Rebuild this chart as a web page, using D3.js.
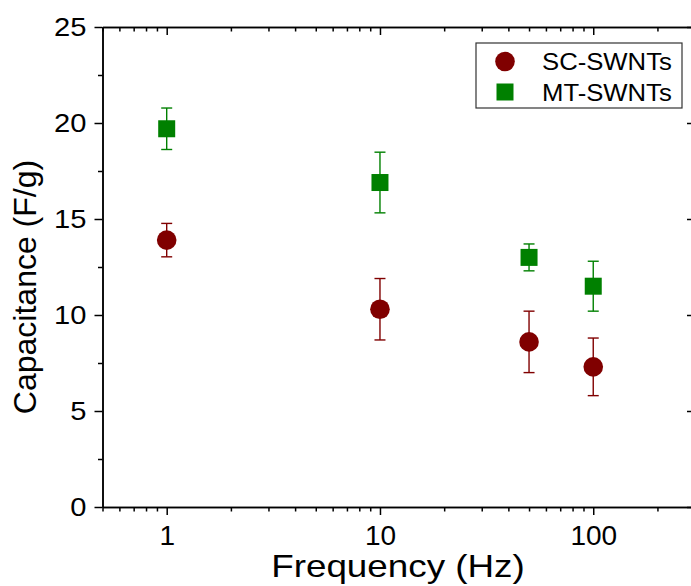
<!DOCTYPE html>
<html>
<head>
<meta charset="utf-8">
<script src="https://cdn.jsdelivr.net/npm/d3@7"></script>
<style>
  body { margin: 0; background: #fff; }
  svg { display: block; font-family: 'Liberation Sans', Arial, sans-serif; }
  .axis path, .axis line { stroke: #000; stroke-width: 1.5; }
  .axis text { font-size: 26px; fill: #000; }
</style>
</head>
<body>
<script>
// data
var freqs = [1, 10, 50, 100];
var scMean = [13.9, 10.3, 8.6, 7.3];
var scErr = [0.87, 1.6, 1.6, 1.5];
var mtMean = [19.7, 16.9, 13.0, 11.5];
var mtErr = [1.08, 1.58, 0.7, 1.3];
var seriesNames = ['SC-SWNTs', 'MT-SWNTs'];
var xMajor = [1, 10, 100];
var xMinor = [0.5, 0.6, 0.7, 0.8, 0.9, 2, 3, 4, 5, 6, 7, 8, 9, 20, 30, 40, 50, 60, 70, 80, 90, 200];
var yMajor = [0, 5, 10, 15, 20, 25];
var yMinor = [2.5, 7.5, 12.5, 17.5, 22.5];

var W = 691, H = 586;
var margin = { top: 27, right: -4, bottom: 79, left: 102.5 };
var width = W - margin.left - margin.right,
    height = H - margin.top - margin.bottom;

var red = '#800000', green = '#008000';

var svg = d3.select('body').append('svg')
  .attr('width', W)
  .attr('height', H);

var g = svg.append('g')
  .attr('transform', 'translate(' + margin.left + ',' + margin.top + ')');

var x = d3.scaleLog().domain([0.5, 300]).range([0, width]);
var y = d3.scaleLinear().domain([0, 25]).range([height, 0]);

// the original glyphs are a bit wider than Arial, stretch text sideways
function stretch(sel, k) {
  sel.each(function() {
    var len = this.getComputedTextLength();
    d3.select(this)
      .attr('textLength', len * k)
      .attr('lengthAdjust', 'spacingAndGlyphs');
  });
}

// minor ticks first, then major ones with labels
g.append('g').attr('class', 'axis')
  .attr('transform', 'translate(0,' + height + ')')
  .call(d3.axisBottom(x).tickValues(xMinor).tickSize(4.5).tickSizeOuter(0).tickFormat(''));
g.append('g').attr('class', 'axis')
  .attr('transform', 'translate(0,' + height + ')')
  .call(d3.axisBottom(x).tickValues(xMajor).tickSize(8).tickSizeOuter(0).tickPadding(10)
    .tickFormat(d3.format('d')))
  .selectAll('text').style('font-size', '28px');

// top axis, ticks pointing in
g.append('g').attr('class', 'axis')
  .call(d3.axisBottom(x).tickValues(xMinor).tickSize(4.5).tickSizeOuter(0).tickFormat(''));
g.append('g').attr('class', 'axis')
  .call(d3.axisBottom(x).tickValues(xMajor).tickSize(8).tickSizeOuter(0).tickFormat(''));

g.append('g').attr('class', 'axis')
  .call(d3.axisLeft(y).tickValues(yMinor).tickSize(4.5).tickSizeOuter(0).tickFormat(''));
g.append('g').attr('class', 'axis')
  .call(d3.axisLeft(y).tickValues(yMajor).tickSize(8).tickSizeOuter(0).tickPadding(8))
  .selectAll('text').call(stretch, 1.12);

// right axis, ticks pointing in
g.append('g').attr('class', 'axis')
  .attr('transform', 'translate(' + width + ',0)')
  .call(d3.axisLeft(y).tickValues(yMinor).tickSize(4).tickSizeOuter(0).tickFormat(''));
g.append('g').attr('class', 'axis')
  .attr('transform', 'translate(' + width + ',0)')
  .call(d3.axisLeft(y).tickValues(yMajor).tickSize(8).tickSizeOuter(0).tickFormat(''));

// axis titles
svg.append('text')
  .attr('x', 398)
  .attr('y', 577)
  .attr('text-anchor', 'middle')
  .style('font-size', '32px')
  .text('Frequency (Hz)')
  .call(stretch, 1.15);

svg.append('text')
  .attr('transform', 'translate(36,287) rotate(-90)')
  .attr('text-anchor', 'middle')
  .style('font-size', '32px')
  .text('Capacitance (F/g)');

var series = [
  { name: seriesNames[0], mean: scMean, err: scErr, color: red, shape: 'circle' },
  { name: seriesNames[1], mean: mtMean, err: mtErr, color: green, shape: 'square' }
];

function drawMarker(sel, shape, color) {
  if (shape === 'circle') {
    sel.append('circle').attr('r', 9.8).attr('fill', color);
  } else {
    sel.append('rect').attr('x', -8.5).attr('y', -8.5)
      .attr('width', 17).attr('height', 17).attr('fill', color);
  }
}

series.forEach(function(s) {
  var pts = freqs.map(function(f, i) {
    return { f: f, m: s.mean[i], e: s.err[i] };
  });
  var eb = g.append('g').attr('stroke', s.color).attr('stroke-width', 1.4);
  pts.forEach(function(p) {
    var cx = x(p.f);
    eb.append('line').attr('x1', cx).attr('x2', cx)
      .attr('y1', y(p.m - p.e)).attr('y2', y(p.m + p.e));
    eb.append('line').attr('x1', cx - 5.5).attr('x2', cx + 5.5)
      .attr('y1', y(p.m - p.e)).attr('y2', y(p.m - p.e));
    eb.append('line').attr('x1', cx - 5.5).attr('x2', cx + 5.5)
      .attr('y1', y(p.m + p.e)).attr('y2', y(p.m + p.e));
  });
  pts.forEach(function(p) {
    var m = g.append('g').attr('transform', 'translate(' + x(p.f) + ',' + y(p.m) + ')');
    drawMarker(m, s.shape, s.color);
  });
});

// legend
var legend = svg.append('g').attr('transform', 'translate(476,43)');
legend.append('rect')
  .attr('width', 206).attr('height', 65)
  .attr('fill', '#fff').attr('stroke', '#333').attr('stroke-width', 1.2);
series.forEach(function(s, i) {
  var row = legend.append('g').attr('transform', 'translate(0,' + (18.5 + i * 30.5) + ')');
  drawMarker(row.append('g').attr('transform', 'translate(29,0)'), s.shape, s.color);
  row.append('text')
    .attr('x', 66).attr('y', 8.5)
    .style('font-size', '24px')
    .text(s.name)
    .call(stretch, 1.07);
});
</script>
</body>
</html>
